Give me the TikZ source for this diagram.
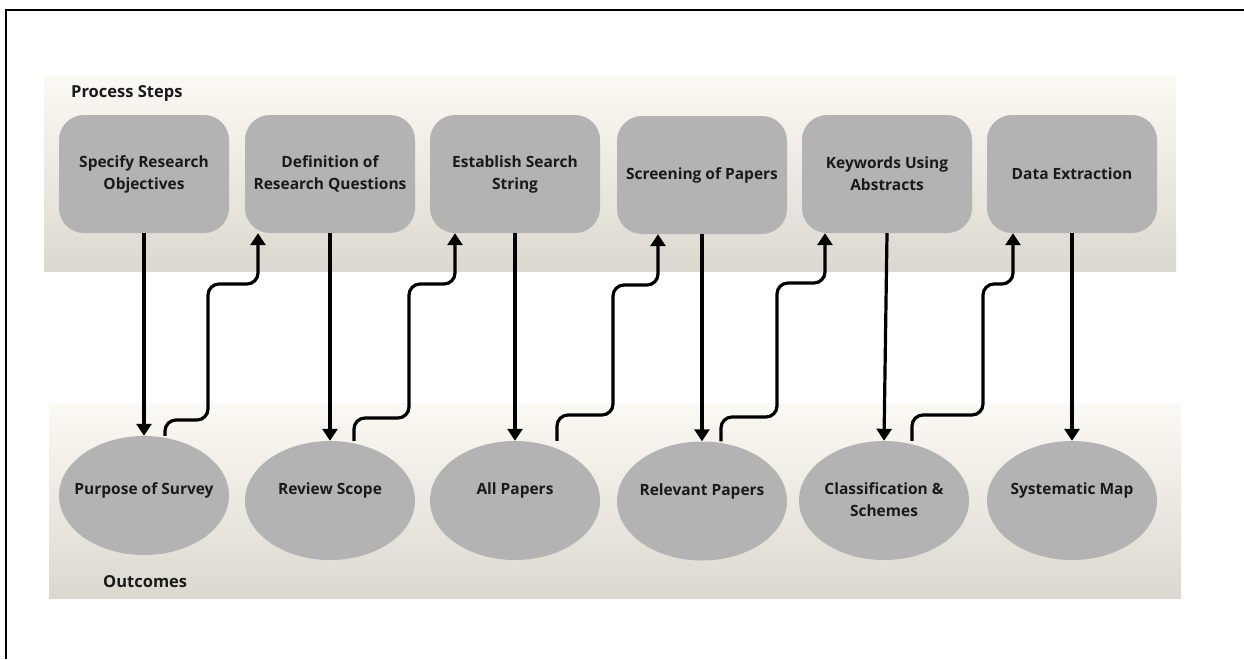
\documentclass[tikz,border=0pt]{standalone}
\usepackage{fontspec}
\setmainfont{Open Sans}
\usetikzlibrary{arrows.meta,shapes.geometric,calc}
\definecolor{bandtop}{RGB}{251,249,243}
\definecolor{bandbot}{RGB}{219,217,207}
\definecolor{boxgray}{RGB}{179,179,179}
\definecolor{ink}{RGB}{26,26,26}
\newcommand\txtfont{\bfseries\fontsize{15.5}{22}\selectfont}
\newcommand\lblfont{\bfseries\fontsize{16.5}{22}\selectfont}
\begin{document}
\begin{tikzpicture}[x=1pt,y=-1pt,
  band/.style={top color=bandtop,bottom color=bandbot,draw=none},
  stepbox/.style={rectangle,rounded corners=25pt,fill=boxgray,minimum width=170pt,minimum height=118pt,inner sep=0pt,align=center,font=\txtfont,text=ink},
  outc/.style={ellipse,fill=boxgray,minimum width=170pt,minimum height=119pt,inner sep=0pt},
  otext/.style={anchor=north,align=center,font=\txtfont,text=ink,inner sep=0pt,yshift=-42pt},
  lbl/.style={anchor=west,font=\lblfont,text=ink,inner sep=0pt},
  dn/.style={line width=3.2pt,-{Triangle[width=15pt,length=12pt]}},
  upar/.style={dn,rounded corners=11pt}]
\useasboundingbox (0,0) rectangle (1244,659);
\fill[white] (0,0) rectangle (1244,659);
\draw[line width=2pt,black] (5.5,659) -- (5.5,10) -- (1244,10);
% bands
\shade[band] (44,76) rectangle (1176,271);
\shade[band] (49,403) rectangle (1181,598);
\node[lbl] (ps) at (71,94) {Process Steps};
\node[lbl] (oc) at (103,582) {Outcomes};
% process steps
\node[stepbox] (b1) at (144,174) {Specify Research\\Objectives};
\node[stepbox] (b2) at (330,174) {Definition of\\Research Questions};
\node[stepbox] (b3) at (515,174) {Establish Search\\String};
\node[stepbox] (b4) at (702,175) {Screening of Papers};
\node[stepbox] (b5) at (887,174) {Keywords Using\\Abstracts};
\node[stepbox] (b6) at (1072,174) {Data Extraction};
% outcomes
\node[outc,label={[otext,yshift=-5pt]north:Purpose of Survey}] (e1) at (144,495.5) {};
\node[outc,label={[otext]north:Review Scope}] (e2) at (330,500.5) {};
\node[outc,label={[otext]north:All Papers}] (e3) at (515,500.5) {};
\node[outc,label={[otext]north:Relevant Papers}] (e4) at (702,501) {};
\node[outc,label={[otext]north:{Classification \&\\Schemes}}] (e5) at (884,500.5) {};
\node[outc,label={[otext]north:Systematic Map}] (e6) at (1072,500.5) {};
% down arrows
\draw[dn] (b1.south) -- (e1.north);
\draw[dn] (b2.south) -- (e2.north);
\draw[dn] (b3.south) -- (e3.north);
\draw[dn] (b4.south) -- (e4.north);
\draw[dn] (b5.south) -- (e5.north);
\draw[dn] (b6.south) -- (e6.north);
% up arrows
\draw[upar] ($(e1.north)+(21,0)$) |- (208,420) |- (258,284) -- ($(b2.south)+(-72,0)$);
\draw[upar] ($(e2.north)+(24,0)$) |- (409,418) |- (455,284) -- ($(b3.south)+(-60,0)$);
\draw[upar] ($(e3.north)+(42,0)$) |- (613,415) |- (658,285) -- ($(b4.south)+(-44,0)$);
\draw[upar] ($(e4.north)+(19,0)$) |- (777,417) |- (825,283) -- ($(b5.south)+(-62,0)$);
\draw[upar] ($(e5.north)+(28,0)$) |- (983,415) |- (1013,284) -- ($(b6.south)+(-59,0)$);
\end{tikzpicture}
\end{document}
